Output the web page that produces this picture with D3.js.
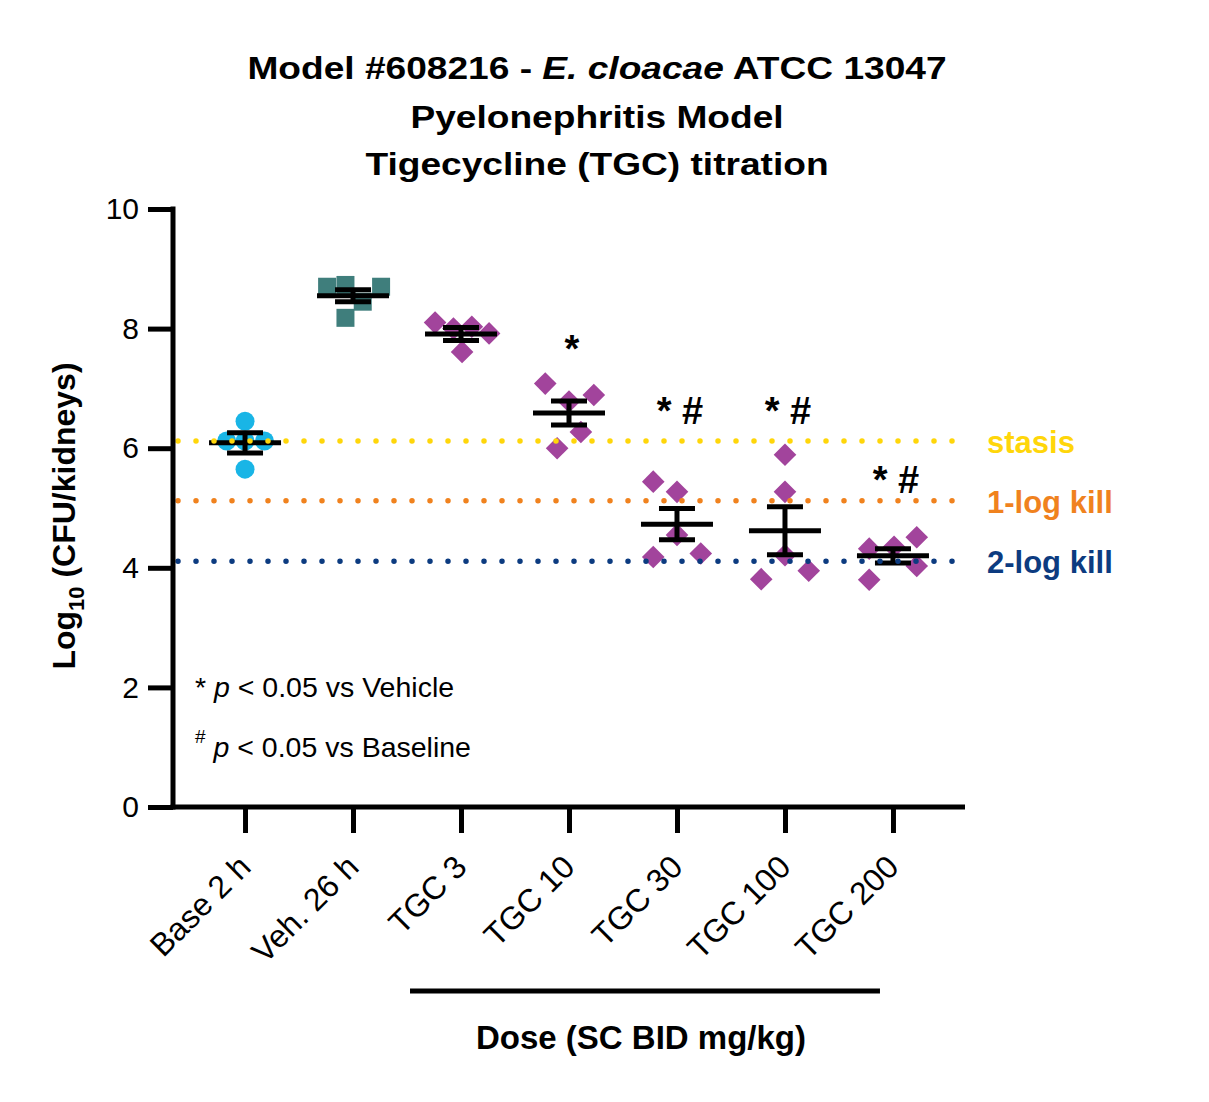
<!DOCTYPE html>
<html>
<head>
<meta charset="utf-8">
<script src="https://cdn.jsdelivr.net/npm/d3@7"></script>
<style>
  body { margin: 0; background: #fff; }
  text { font-family: "Liberation Sans", Arial, sans-serif; }
</style>
</head>
<body>
<div id="chart"></div>
<script>
// categories along the x axis
var categories = ["Base 2 h", "Veh. 26 h", "TGC 3", "TGC 10", "TGC 30", "TGC 100", "TGC 200"];

// individual animals, log10 CFU/kidneys
var baseVals = [6.45, 6.12, 6.12, 6.12, 5.65];
var vehVals = [8.70, 8.73, 8.70, 8.45, 8.18];
var tgc3Vals = [8.10, 8.00, 8.03, 7.92, 7.61];
var tgc10Vals = [7.08, 6.78, 6.89, 6.27, 6.00];
var tgc30Vals = [5.44, 5.27, 4.55, 4.18, 4.24];
var tgc100Vals = [5.89, 5.27, 4.21, 3.81, 3.95];
var tgc200Vals = [4.32, 4.35, 4.51, 4.03, 3.80];
var groupVals = [baseVals, vehVals, tgc3Vals, tgc10Vals, tgc30Vals, tgc100Vals, tgc200Vals];

// jitter offsets of each point in category units
var baseJit = [0, -0.17, 0, 0.18, 0];
var vehJit = [-0.24, -0.07, 0.26, 0.09, -0.07];
var tgc3Jit = [-0.24, -0.07, 0.1, 0.26, 0.01];
var tgc10Jit = [-0.22, 0, 0.23, 0.11, -0.11];
var tgc30Jit = [-0.22, 0, 0, -0.22, 0.22];
var tgc100Jit = [0, 0, 0, -0.22, 0.22];
var tgc200Jit = [-0.22, 0.01, 0.22, 0.22, -0.22];
var groupJit = [baseJit, vehJit, tgc3Jit, tgc10Jit, tgc30Jit, tgc100Jit, tgc200Jit];

// mean and SEM as plotted
var means = [6.09, 8.55, 7.91, 6.59, 4.73, 4.62, 4.20];
var sems = [0.17, 0.10, 0.11, 0.20, 0.26, 0.40, 0.12];

// significance marks and the level their baseline sits at
var marks = ["", "", "", "*", "* #", "* #", "* #"];
var markY = [0, 0, 0, 7.44, 6.40, 6.40, 5.25];

// reference lines
var refNames = ["stasis", "1-log kill", "2-log kill"];
var refVals = [6.12, 5.12, 4.11];
var refColors = ["#ffd60a", "#f0821e", "#0c3b80"];

var yTicks = [0, 2, 4, 6, 8, 10];

var groupColors = ["#19b5e6", "#3f7e7c", "#a2449c", "#a2449c", "#a2449c", "#a2449c", "#a2449c"];
var groupShapes = ["circle", "square", "diamond", "diamond", "diamond", "diamond", "diamond"];

var W = 1209, H = 1102;
var svg = d3.select("#chart").append("svg")
  .attr("width", W)
  .attr("height", H);

var x = d3.scalePoint().domain(categories).range([173, 965]).padding(0.667);
var step = x.step();
var y = d3.scaleLinear().domain([0, 10]).range([807, 209]);

// title (the original face is wider than Arial, so stretch it)
function titleLine(yPos) {
  return svg.append("g")
    .attr("transform", "translate(597," + yPos + ") scale(1.16,1)")
    .append("text")
    .attr("text-anchor", "middle")
    .style("font-size", "32px")
    .style("font-weight", "bold");
}
var t1 = titleLine(79);
t1.append("tspan").text("Model #608216 - ");
t1.append("tspan").style("font-style", "italic").text("E. cloacae");
t1.append("tspan").text(" ATCC 13047");
titleLine(128).text("Pyelonephritis Model");
titleLine(175).text("Tigecycline (TGC) titration");

// points
var symbolFor = {
  circle: d3.symbol().type(d3.symbolCircle).size(Math.PI * 9.5 * 9.5),
  square: d3.symbol().type(d3.symbolSquare).size(18 * 18),
  diamond: d3.symbol().type(d3.symbolSquare).size(16 * 16)
};

var pts = [];
groupVals.forEach(function (vals, gi) {
  vals.forEach(function (v, j) {
    pts.push({ g: gi, v: v, jit: groupJit[gi][j] });
  });
});

svg.append("g")
  .selectAll("path")
  .data(pts)
  .enter()
  .append("path")
  .attr("d", function (d) { return symbolFor[groupShapes[d.g]](); })
  .attr("transform", function (d) {
    var t = "translate(" + (x(categories[d.g]) + d.jit * step) + "," + y(d.v) + ")";
    if (groupShapes[d.g] === "diamond") t += " rotate(45)";
    return t;
  })
  .style("fill", function (d) { return groupColors[d.g]; });

// mean +/- SEM
var eb = svg.append("g")
  .attr("stroke", "#000")
  .attr("stroke-width", 5)
  .selectAll("g")
  .data(categories)
  .enter()
  .append("g");
eb.append("line")
  .attr("x1", function (d) { return x(d) - 36; })
  .attr("x2", function (d) { return x(d) + 36; })
  .attr("y1", function (d, i) { return y(means[i]); })
  .attr("y2", function (d, i) { return y(means[i]); });
eb.append("line")
  .attr("x1", function (d) { return x(d); })
  .attr("x2", function (d) { return x(d); })
  .attr("y1", function (d, i) { return y(means[i] - sems[i]); })
  .attr("y2", function (d, i) { return y(means[i] + sems[i]); });
eb.append("line")
  .attr("x1", function (d) { return x(d) - 18; })
  .attr("x2", function (d) { return x(d) + 18; })
  .attr("y1", function (d, i) { return y(means[i] + sems[i]); })
  .attr("y2", function (d, i) { return y(means[i] + sems[i]); });
eb.append("line")
  .attr("x1", function (d) { return x(d) - 18; })
  .attr("x2", function (d) { return x(d) + 18; })
  .attr("y1", function (d, i) { return y(means[i] - sems[i]); })
  .attr("y2", function (d, i) { return y(means[i] - sems[i]); });

// dotted reference lines
svg.append("g")
  .selectAll("line")
  .data(refVals)
  .enter()
  .append("line")
  .attr("x1", 178)
  .attr("x2", 965)
  .attr("y1", function (d) { return y(d); })
  .attr("y2", function (d) { return y(d); })
  .attr("stroke", function (d, i) { return refColors[i]; })
  .attr("stroke-width", 5.5)
  .attr("stroke-linecap", "round")
  .attr("stroke-dasharray", "0 18");

svg.append("g")
  .selectAll("text")
  .data(refNames)
  .enter()
  .append("text")
  .attr("x", 987)
  .attr("y", function (d, i) { return y(refVals[i]) + 12; })
  .style("font-size", "31px")
  .style("font-weight", "bold")
  .style("fill", function (d, i) { return refColors[i]; })
  .text(function (d) { return d; });

// significance marks
svg.append("g")
  .selectAll("text")
  .data(categories.filter(function (d, i) { return marks[i] !== ""; }))
  .enter()
  .append("text")
  .attr("x", function (d) { return x(d) + 3; })
  .attr("y", function (d) { return y(markY[categories.indexOf(d)]); })
  .attr("text-anchor", "middle")
  .style("font-size", "38px")
  .style("font-weight", "bold")
  .text(function (d) { return marks[categories.indexOf(d)]; });

// axes
var yAxis = svg.append("g")
  .attr("transform", "translate(173,0)")
  .call(d3.axisLeft(y).tickValues(yTicks).tickSize(25).tickSizeOuter(0).tickPadding(9));
var xAxis = svg.append("g")
  .attr("transform", "translate(0,807)")
  .call(d3.axisBottom(x).tickSize(26).tickSizeOuter(0));

[yAxis, xAxis].forEach(function (a) {
  a.selectAll("path.domain").attr("stroke", "#000").attr("stroke-width", 5);
  a.selectAll(".tick line").attr("stroke", "#000").attr("stroke-width", 5);
  a.selectAll(".tick text")
    .style("font-size", "30px")
    .style("font-family", "'Liberation Sans', Arial, sans-serif")
    .attr("fill", "#000");
});
yAxis.select("path.domain").attr("d", "M0," + (y(10) - 2.5) + "V" + (y(0) + 2.5));
xAxis.select("path.domain").attr("d", "M" + 170.5 + ",0H965");

xAxis.selectAll(".tick text")
  .style("font-size", "32px")
  .attr("text-anchor", "end")
  .attr("dy", 0)
  .attr("y", 0)
  .attr("transform", "translate(7,62) rotate(-45)");

// y axis title
var yt = svg.append("text")
  .attr("transform", "translate(75,516) rotate(-90)")
  .attr("text-anchor", "middle")
  .style("font-size", "32px")
  .style("font-weight", "bold");
yt.append("tspan").text("Log");
yt.append("tspan").attr("dy", 9).style("font-size", "22px").text("10");
yt.append("tspan").attr("dy", -9).text(" (CFU/kidneys)");

// dose bracket and title
svg.append("line")
  .attr("x1", x("TGC 3") - 51)
  .attr("x2", x("TGC 200") - 13)
  .attr("y1", 991).attr("y2", 991)
  .attr("stroke", "#000").attr("stroke-width", 5);
svg.append("text")
  .attr("x", 641).attr("y", 1049)
  .attr("text-anchor", "middle")
  .style("font-size", "33px").style("font-weight", "bold")
  .text("Dose (SC BID mg/kg)");

// legend notes
var n1 = svg.append("text").attr("x", 195).attr("y", 697).style("font-size", "28.5px");
n1.append("tspan").text("* ");
n1.append("tspan").style("font-style", "italic").text("p");
n1.append("tspan").text(" < 0.05 vs Vehicle");
var n2 = svg.append("text").attr("x", 195).attr("y", 757).style("font-size", "28.5px");
n2.append("tspan").attr("dy", -14).style("font-size", "19px").text("#");
n2.append("tspan").attr("dy", 14).text(" ");
n2.append("tspan").style("font-style", "italic").text("p");
n2.append("tspan").text(" < 0.05 vs Baseline");
</script>
</body>
</html>
